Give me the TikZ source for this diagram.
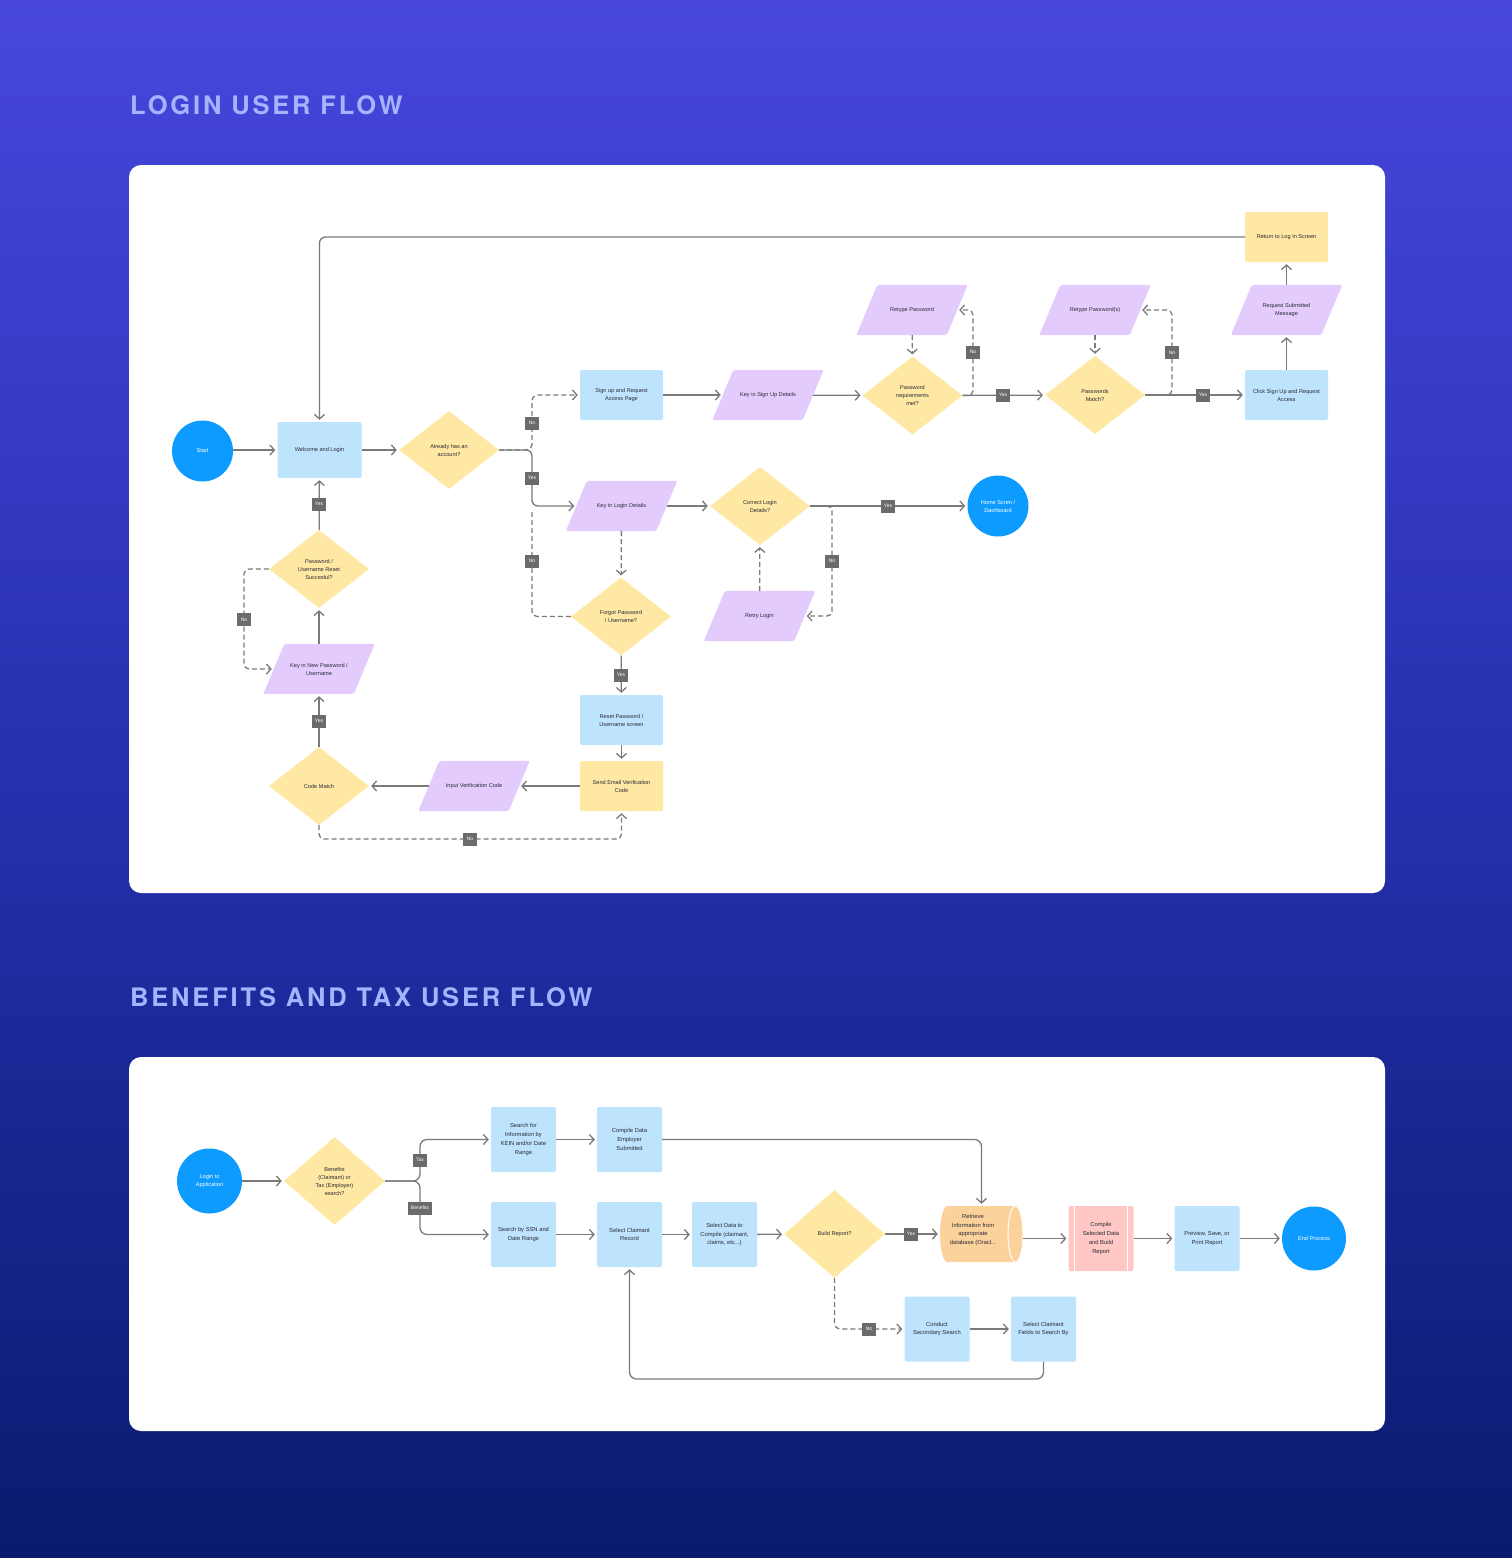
\documentclass[tikz,border=0pt]{standalone}
\usepackage{fontspec}
\setmainfont{Liberation Sans}
\newfontfamily\titlefont{TeX Gyre Heros}[LetterSpace=11]
\usetikzlibrary{shapes.geometric, arrows.meta}
\definecolor{bgtop}{HTML}{4747DD}
\definecolor{bgmid}{HTML}{2630AE}
\definecolor{bgbot}{HTML}{0A1A6E}
\definecolor{titlec}{HTML}{A3B5FF}
\definecolor{boxblue}{HTML}{BEE3FD}
\definecolor{boxpurple}{HTML}{E3CCFD}
\definecolor{boxyellow}{HTML}{FFE8A3}
\definecolor{circblue}{HTML}{0E9BFF}
\definecolor{cylorange}{HTML}{FCD29C}
\definecolor{boxpink}{HTML}{FFC8C4}
\definecolor{linegray}{HTML}{7A7A7A}
\definecolor{labgray}{HTML}{6B6B6B}
\definecolor{txt}{HTML}{2A2A36}
\pgfdeclarelayer{bglayer}
\pgfdeclarelayer{shapelayer}
\pgfsetlayers{bglayer,shapelayer,main}
\newcommand\paraFill[1]{\fill[boxpurple, rounded corners=2] ([xshift=10.5pt]#1.north west) -- ([xshift=10.5pt]#1.north east) -- ([xshift=-10.5pt]#1.south east) -- ([xshift=-10.5pt]#1.south west) -- cycle;}
\tikzset{
  base/.style={font=\fontsize{5.6}{8}\selectfont, text=txt, align=center, inner sep=0pt},
  proc/.style={base, rectangle, rounded corners=2, fill=boxblue},
  procA/.style={proc, minimum width=83, minimum height=50},
  procB/.style={proc, minimum width=65, minimum height=65, font=\fontsize{5.8}{8.8}\selectfont},
  dec/.style={base, diamond, fill=boxyellow, minimum width=100, minimum height=78},
  io/.style={base, rectangle, minimum width=90, minimum height=50},
  term/.style={base, circle, fill=circblue, text=white, minimum size=61},
  lab/.style={fill=labgray, text=white, font=\fontsize{5}{6}\selectfont, inner xsep=2.5pt,
    inner ysep=0pt, minimum width=14, minimum height=13},
  line/.style={draw=linegray, line width=1.3pt, -{Straight Barb[length=4.5pt, width=10pt]}, shorten >=2pt},
  dline/.style={line, dash pattern=on 5pt off 3pt},
  dplain/.style={draw=linegray, line width=1.3pt, dash pattern=on 5pt off 3pt},
}
\begin{document}
\begin{tikzpicture}[x=1pt, y=-1pt]
\useasboundingbox (0,0) rectangle (1512,1558);
\begin{pgfonlayer}{bglayer}
\shade[top color=bgtop, bottom color=bgbot, middle color=bgmid] (0,0) rectangle (1512,1558);
\fill[white, rounded corners=12] (129,165) rectangle (1385,893);
\fill[white, rounded corners=12] (129,1057) rectangle (1385,1431);
\end{pgfonlayer}
\node[anchor=base west, text=titlec, inner sep=0, font=\titlefont\bfseries\fontsize{25.5}{30}\selectfont] (t1) at (130,114.5) {LOGIN USER FLOW};
\node[anchor=base west, text=titlec, inner sep=0, font=\titlefont\bfseries\fontsize{25.5}{30}\selectfont] (t2) at (130,1006.5) {BENEFITS AND TAX USER FLOW};

% ---------- Login flow ----------
\node[term] (start) at (202.5,451) {Start};
\node[proc, minimum width=84, minimum height=56] (wl) at (319.5,450) {Welcome and Login};
\node[dec] (ah) at (449,450) {Already has an\\account?};
\node[procA] (su) at (621.5,395) {Sign up and Request\\Access Page};
\node[io] (ks) at (768,395) {Key in Sign Up Details};
\node[dec] (pr) at (912.5,395.5) {Password\\requirements\\met?};
\node[io] (rp) at (912,310) {Retype Password};
\node[dec] (pm) at (1095,395) {Passwords\\Match?};
\node[io] (rp2) at (1095,310) {Retype Password(s)};
\node[procA] (cs) at (1286.5,395) {Click Sign Up and Request\\Access};
\node[io] (rs) at (1286.5,310) {Request Submitted\\Message};
\node[procA, fill=boxyellow] (ret) at (1286.5,237) {Return to Log In Screen};
\node[io] (kl) at (621.5,506) {Key in Login Details};
\node[dec] (cl) at (760,506) {Correct Login\\Details?};
\node[term] (home) at (998,506) {Home Scren /\\Dashboard};
\node[io] (rl) at (759.5,616) {Retry Login};
\node[dec] (fp) at (621,616.5) {Forgot Password\\/ Username?};
\node[procA] (rsp) at (621.5,720) {Reset Password /\\Username screen};
\node[procA, fill=boxyellow] (se) at (621.5,786) {Send Email Verification\\Code};
\node[io] (iv) at (474,786) {Input Verification Code};
\node[dec] (cm) at (319,786) {Code Match};
\node[io] (knp) at (319,669) {Key in New Password /\\Username};
\node[dec] (prs) at (319,569) {Password /\\Username Reset\\Succesful?};
\begin{pgfonlayer}{shapelayer}
\paraFill{ks}\paraFill{rp}\paraFill{rp2}\paraFill{rs}\paraFill{kl}\paraFill{rl}\paraFill{iv}\paraFill{knp}
\end{pgfonlayer}

\draw[line] (start.east |- wl.west) -- (wl.west);
\draw[line] (wl) -- (ah);
\draw[dline, rounded corners=6] (ah.east) -- (532,450) |- (su.west);
\draw[line, rounded corners=6] (ah.east) -- (532,450) |- (kl.west);
\draw[line] (su) -- (ks);
\draw[line] (ks) -- (pr);
\draw[line] (pr) -- (pm);
\draw[line] (pm) -- (cs);
\draw[dline, rounded corners=5] (pr.east) -| (973,310) -- (rp.east);
\draw[dline] (rp) -- (pr);
\draw[dline, rounded corners=5] (pm.east) -| (1172,310) -- (rp2.east);
\draw[dline] (rp2) -- (pm);
\draw[line] (cs) -- (rs);
\draw[line] (rs) -- (ret);
\draw[line, rounded corners=6] (ret.west) -| (wl.north);
\draw[line] (kl) -- (cl);
\draw[line] (cl) -- (home);
\draw[dline, rounded corners=5] (cl.east) -| (832,616) -- (rl.east);
\draw[dline] (rl) -- (cl);
\draw[dline] (kl) -- (fp);
\draw[dplain, rounded corners=5] (fp.west) -| (532,512);
\draw[line] (fp) -- (rsp);
\draw[line] (rsp) -- (se);
\draw[line] (se) -- (iv);
\draw[line] (iv) -- (cm);
\draw[dline, rounded corners=5] (cm.south) |- (470,839) -| (se.south);
\draw[line] (cm) -- (knp);
\draw[line] (knp) -- (prs);
\draw[dline, rounded corners=5] (prs.west) -| (244,669) -- (knp.west);
\draw[line] (prs) -- (wl);

\node[lab] (la1) at (532,423) {No};
\node[lab] (la2) at (532,478) {Yes};
\node[lab] (la3) at (532,561) {No};
\node[lab] (la4) at (973,352) {No};
\node[lab] (la5) at (1003,395) {Yes};
\node[lab] (la6) at (1172,352.5) {No};
\node[lab] (la7) at (1203,395) {Yes};
\node[lab] (la8) at (888,506) {Yes};
\node[lab] (la9) at (832,561) {No};
\node[lab] (la10) at (621,675) {Yes};
\node[lab] (la11) at (470,839) {No};
\node[lab] (la12) at (319,721) {Yes};
\node[lab] (la13) at (319,504) {Yes};
\node[lab] (la14) at (244,619.5) {No};

% ---------- Benefits and tax flow ----------
\node[term, minimum size=65] (login) at (209.5,1181) {Login to\\Application};
\node[dec, minimum width=101, minimum height=88] (bt) at (334.5,1181) {Benefits\\(Claimant) or\\Tax (Employer)\\search?};
\node[procB] (kein) at (523.5,1139.5) {Search for\\Information by\\KEIN and/or Date\\Range};
\node[procB] (cde) at (629.5,1139.5) {Compile Data\\Employer\\Submitted};
\node[procB] (ssn) at (523.5,1234.5) {Search by SSN and\\Date Range};
\node[procB] (scr) at (629.5,1234.5) {Select Claimant\\Record};
\node[procB] (sdc) at (724.5,1234.5) {Select Data to\\Compile (claimant,\\claims, etc...)};
\node[dec, minimum width=101, minimum height=88] (br) at (834.5,1234) {Build Report?};
\fill[cylorange] (947.5,1206) -- (1015.5,1206) arc[start angle=-90, end angle=90, x radius=7.5, y radius=28]
  -- (947.5,1262) arc[start angle=90, end angle=270, x radius=7.5, y radius=28] -- cycle;
\draw[white, line width=1pt] (1015.5,1234) ellipse [x radius=7.5, y radius=28];
\node[base, minimum width=83, minimum height=56] (cyl) at (981.5,1234) {};
\node[base, font=\fontsize{5.8}{8.8}\selectfont] (cyltxt) at (973,1230) {Retrieve\\Information from\\appropriate\\database (Oracl...};
\node[procB, fill=boxpink, path picture={
  \draw[white, line width=1pt] ([xshift=6pt]path picture bounding box.north west) -- ([xshift=6pt]path picture bounding box.south west);
  \draw[white, line width=1pt] ([xshift=-6pt]path picture bounding box.north east) -- ([xshift=-6pt]path picture bounding box.south east);
}] (csd) at (1101,1238.5) {Compile\\Selected Data\\and Build\\Report};
\node[procB] (pv) at (1207,1238.5) {Preview, Save, or\\Print Report};
\node[term, minimum size=64] (endp) at (1314,1238.5) {End Process};
\node[procB] (css) at (937,1329) {Conduct\\Secondary Search};
\node[procB] (scf) at (1043.5,1329) {Select Claimant\\Fields to Search By};

\draw[line] (login) -- (bt);
\draw[line, rounded corners=7] (bt.east) -- (420,1181) |- (kein.west);
\draw[line, rounded corners=7] (bt.east) -- (420,1181) |- (ssn.west);
\draw[line] (kein) -- (cde);
\draw[line, rounded corners=7] (cde.east) -| (cyl.north);
\draw[line] (ssn) -- (scr);
\draw[line] (scr) -- (sdc);
\draw[line] (sdc) -- (br);
\draw[line] (br) -- (cyl);
\draw[line] (cyl.east |- csd.west) -- (csd.west);
\draw[line] (csd) -- (pv);
\draw[line] (pv) -- (endp);
\draw[dline, rounded corners=6] (br.south) |- (css.west);
\draw[line] (css) -- (scf);
\draw[line, rounded corners=7] (scf.south) |- (800,1379) -| (scr.south);

\node[lab] (lb1) at (420,1160) {Tax};
\node[lab] (lb2) at (420,1208) {Benefits};
\node[lab] (lb3) at (911,1234) {Yes};
\node[lab] (lb4) at (869,1329) {No};
\end{tikzpicture}
\end{document}
